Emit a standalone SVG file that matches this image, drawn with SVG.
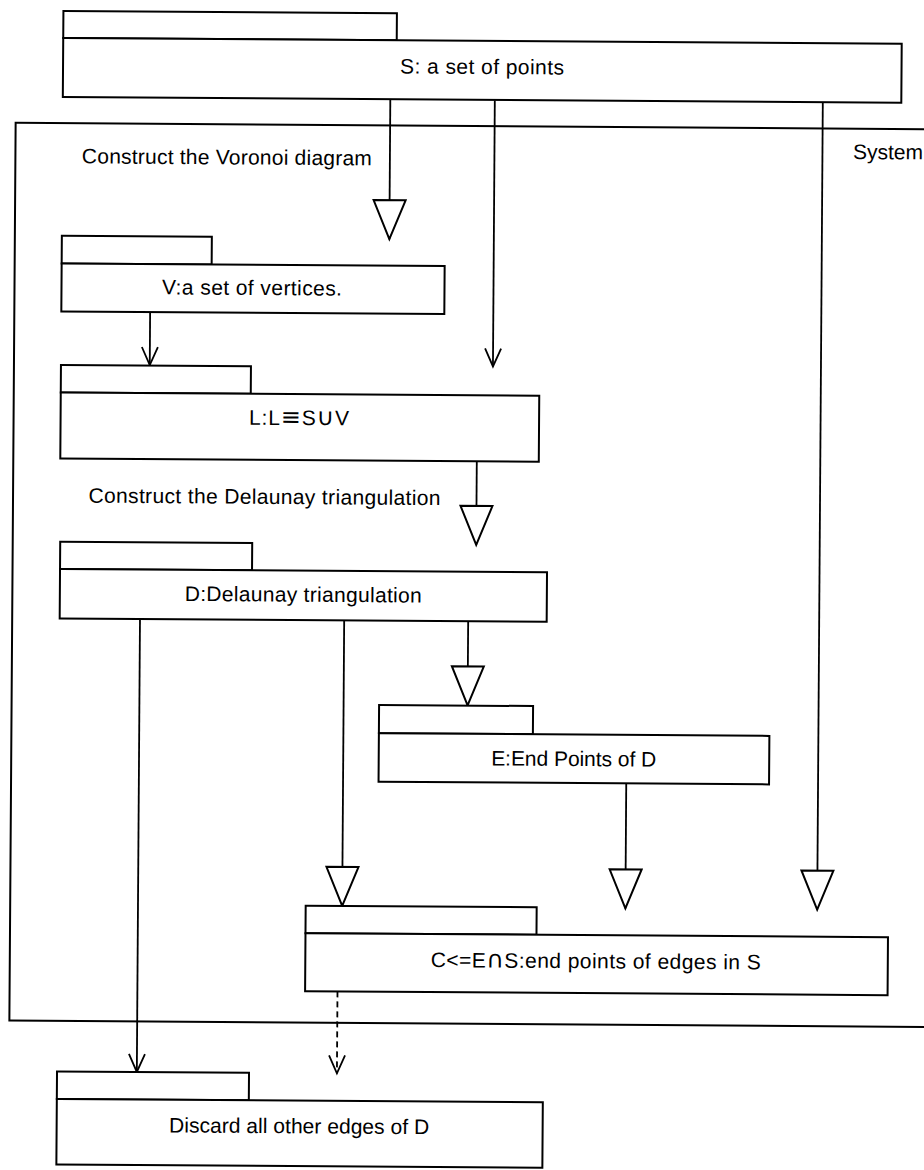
<svg xmlns="http://www.w3.org/2000/svg" width="924" height="1170" viewBox="0 0 924 1170">
<style>
.box{fill:#fff;stroke:#000;stroke-width:2}
.frame{fill:none;stroke:#000;stroke-width:2}
.t{font-family:"Liberation Sans",Arial,sans-serif;font-size:21px;fill:#000}
.c{text-anchor:middle}
.sym{font-family:"DejaVu Sans",sans-serif;font-size:24px}
.ln{fill:none;stroke:#000;stroke-width:1.8}
.tri{marker-end:url(#tri)}
.open{marker-end:url(#open)}
.dash{stroke-dasharray:6 4}
</style>
<defs>
<marker id="tri" viewBox="0 0 40 34" refX="40" refY="17" markerWidth="40" markerHeight="34" markerUnits="userSpaceOnUse" orient="auto" overflow="visible">
<path d="M1,1 L40,17 L1,33 Z" fill="#fff" stroke="#000" stroke-width="2" stroke-linejoin="miter"/>
</marker>
<marker id="open" viewBox="0 0 18 16" refX="18" refY="8" markerWidth="18" markerHeight="16" markerUnits="userSpaceOnUse" orient="auto" overflow="visible">
<path d="M0,0 L18,8 L0,16" fill="none" stroke="#000" stroke-width="1.8" stroke-dasharray="none"/>
</marker>
</defs>
<rect width="924" height="1170" fill="#fff"/>
<g transform="rotate(0.4)">
<g id="system">
<rect class="frame" x="16.5" y="122.7" width="960" height="897.8"/>
<text class="t" x="854" y="153">System</text>
</g>
<g id="lbl-voronoi"><text class="t" x="83" y="162.8" textLength="290">Construct the Voronoi diagram</text></g>
<g id="lbl-delaunay"><text class="t" x="92" y="502" textLength="352">Construct the Delaunay triangulation</text></g>

<g id="connectors">
<path class="ln tri" d="M391,97 V236.5"/>
<path class="ln open" d="M495.5,97 V363"/>
<path class="ln tri" d="M823.5,97 V903.8"/>
<path class="ln open" d="M152.3,311 V364"/>
<path class="ln tri" d="M480,458 V541.5"/>
<path class="ln tri" d="M472.5,618 V702"/>
<path class="ln tri" d="M348.5,618 V903.5"/>
<path class="ln tri" d="M631.7,779 V904"/>
<path class="ln open" d="M144.3,618 V1071"/>
<path class="ln dash open" d="M344.4,989 V1071"/>
</g>

<g id="node-S">
<rect class="box" x="63.5" y="10.5" width="333.5" height="27"/>
<rect class="box" x="63.5" y="37.5" width="838.5" height="59"/>
<text class="t c" x="482.5" y="70.6" textLength="164">S: a set of points</text>
</g>
<g id="node-V">
<rect class="box" x="63.5" y="235.3" width="150" height="27.7"/>
<rect class="box" x="63.5" y="263" width="383" height="48"/>
<text class="t c" x="254" y="293.2" textLength="180">V:a set of vertices.</text>
</g>
<g id="node-L">
<rect class="box" x="63.5" y="364.5" width="190" height="27.5"/>
<rect class="box" x="63.5" y="392" width="478.5" height="66"/>
<text class="t c" x="302" y="423" textLength="100">L:L<tspan class="sym">≡</tspan>S<tspan class="sym">∪</tspan>V</text>
</g>
<g id="node-D">
<rect class="box" x="64" y="541.3" width="192" height="27.2"/>
<rect class="box" x="64" y="568.5" width="487" height="49.5"/>
<text class="t c" x="307.4" y="599.6" textLength="237">D:Delaunay triangulation</text>
</g>
<g id="node-E">
<rect class="box" x="384" y="702.3" width="154" height="28.2"/>
<rect class="box" x="384" y="730.5" width="390.5" height="48.5"/>
<text class="t c" x="579" y="762" textLength="165">E:End Points of D</text>
</g>
<g id="node-C">
<rect class="box" x="312" y="903.5" width="231" height="27.5"/>
<rect class="box" x="312" y="931" width="582.5" height="58"/>
<text class="t c" x="602.5" y="964.1" textLength="330">C&lt;=E<tspan class="sym">∩</tspan>S:end points of edges in S</text>
</g>
<g id="node-Discard">
<rect class="box" x="64.5" y="1071" width="192" height="27.5"/>
<rect class="box" x="64.5" y="1098.5" width="486" height="65.5"/>
<text class="t c" x="307" y="1131.2" textLength="260">Discard all other edges of D</text>
</g>
</g>
</svg>
